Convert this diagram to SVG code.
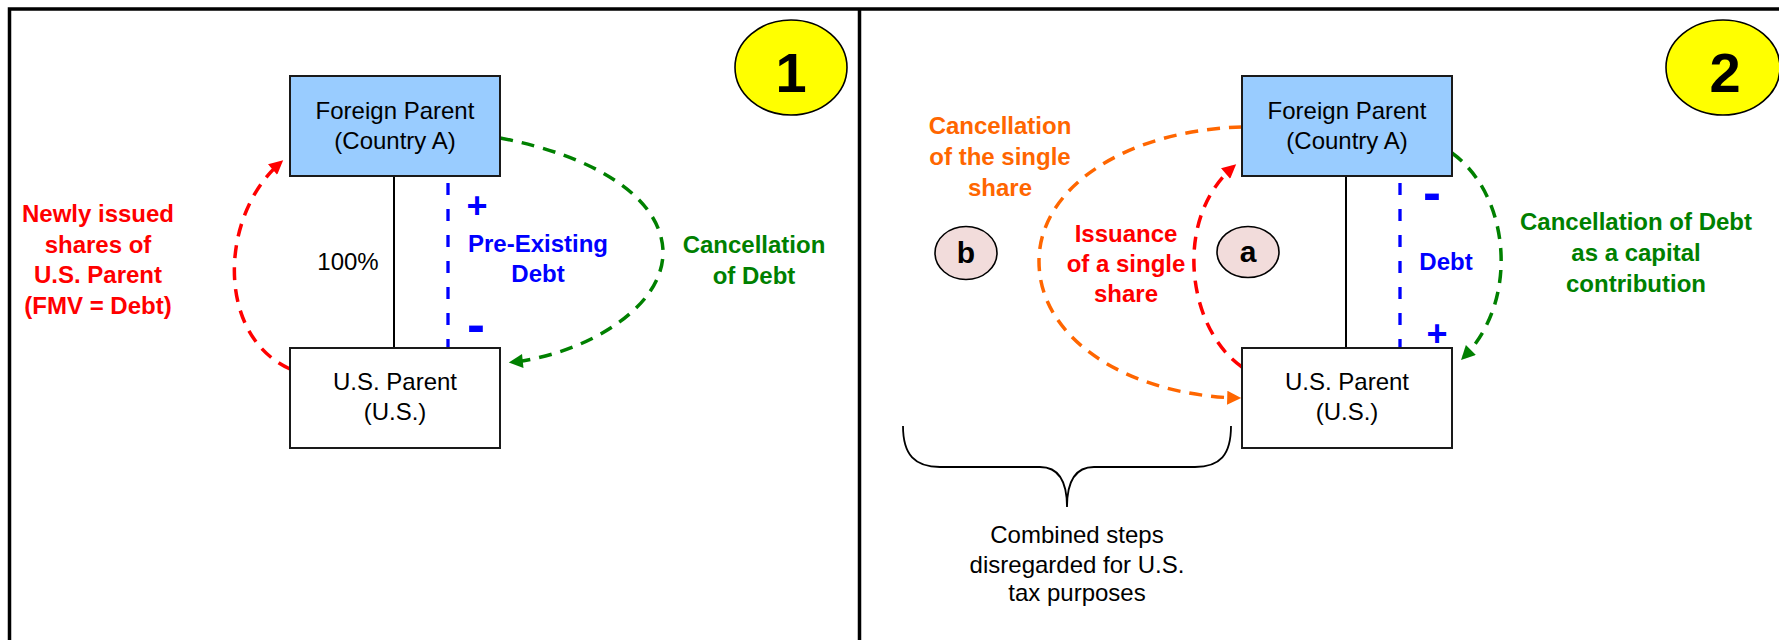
<svg xmlns="http://www.w3.org/2000/svg" width="1779" height="640" viewBox="0 0 1779 640">
<style>
text{font-family:"Liberation Sans",Arial,Helvetica,sans-serif;font-size:24px;text-anchor:middle;fill:#000}
.bd{font-weight:bold}
.red{fill:#FF0000}
.grn{fill:#008000}
.blu{fill:#0000FF}
.org{fill:#FF6600}
.big{font-size:56px;font-weight:bold}
.sign{font-size:36px;font-weight:bold;fill:#0000FF}
.minus{font-size:54px;font-weight:bold;fill:#0000FF}
.lett{font-size:30px;font-weight:bold}
.box{stroke:#1a1a1a;stroke-width:2}
.dash{fill:none;stroke-width:3.5;stroke-dasharray:13 9}
</style>
<defs>
<marker id="ar-red" viewBox="0 0 10 10" refX="7" refY="5" markerWidth="15" markerHeight="14" markerUnits="userSpaceOnUse" orient="auto"><path d="M0,0 L10,5 L0,10 z" fill="#FF0000"/></marker>
<marker id="ar-grn" viewBox="0 0 10 10" refX="7" refY="5" markerWidth="15" markerHeight="14" markerUnits="userSpaceOnUse" orient="auto"><path d="M0,0 L10,5 L0,10 z" fill="#008000"/></marker>
<marker id="ar-org" viewBox="0 0 10 10" refX="7" refY="5" markerWidth="15" markerHeight="14" markerUnits="userSpaceOnUse" orient="auto"><path d="M0,0 L10,5 L0,10 z" fill="#FF6600"/></marker>
</defs>
<rect width="1779" height="640" fill="#fff"/>
<g id="frame" fill="none" stroke="#000" stroke-width="3.5">
<path d="M9.5,640 L9.5,9 L1779,9"/>
<line x1="859.5" y1="9" x2="859.5" y2="640"/>
</g>

<g id="connectors">
<line x1="394" y1="177" x2="394" y2="348" stroke="#000" stroke-width="2"/>
<line x1="448" y1="183" x2="448" y2="348" stroke="#0000FF" stroke-width="3.3" stroke-dasharray="12 14"/>
<path class="dash" stroke="#FF0000" d="M290,369 C215,335 220,215 280,163" marker-end="url(#ar-red)"/>
<path class="dash" stroke="#008000" d="M500,138 C590,155 660,195 663,250 C665,310 580,355 513,362" marker-end="url(#ar-grn)"/>

<line x1="1346" y1="177" x2="1346" y2="348" stroke="#000" stroke-width="2"/>
<line x1="1400" y1="183" x2="1400" y2="348" stroke="#0000FF" stroke-width="3.3" stroke-dasharray="12 14"/>
<path class="dash" stroke="#FF6600" d="M1242,127 C1130,130 1040,185 1039,260 C1038,340 1130,395 1237,398" marker-end="url(#ar-org)"/>
<path class="dash" stroke="#FF0000" d="M1242,367 C1188,330 1172,220 1233,167" marker-end="url(#ar-red)"/>
<path class="dash" stroke="#008000" d="M1452,153 C1510,195 1520,300 1464,357" marker-end="url(#ar-grn)"/>
<path d="M903,426 C903,455 915,467 940,467 L1040,467 C1058,467 1067,480 1067,507 C1067,480 1076,467 1094,467 L1195,467 C1220,467 1231,455 1231,426" fill="none" stroke="#000" stroke-width="1.8"/>
</g>

<g id="p1-foreign-parent">
<rect class="box" x="290" y="76" width="210" height="100" fill="#99CCFF"/>
<text x="395" y="119">Foreign Parent</text>
<text x="395" y="149">(Country A)</text>
</g>
<g id="p1-us-parent">
<rect class="box" x="290" y="348" width="210" height="100" fill="#fff"/>
<text x="395" y="390">U.S. Parent</text>
<text x="395" y="420">(U.S.)</text>
</g>
<g id="badge-1">
<ellipse cx="791" cy="67.5" rx="56" ry="47.5" fill="#FFFF00" stroke="#000" stroke-width="1.6"/>
<text class="big" x="791" y="92">1</text>
</g>
<g id="p1-labels">
<text x="348" y="270">100%</text>
<text class="sign" x="477" y="218">+</text>
<text class="minus" x="476" y="343">-</text>
<text class="bd blu" x="538" y="252">Pre-Existing</text>
<text class="bd blu" x="538" y="282">Debt</text>
<text class="bd red" x="98" y="222">Newly issued</text>
<text class="bd red" x="98" y="252.5">shares of</text>
<text class="bd red" x="98" y="283">U.S. Parent</text>
<text class="bd red" x="98" y="313.5">(FMV = Debt)</text>
<text class="bd grn" x="754" y="253">Cancellation</text>
<text class="bd grn" x="754" y="284">of Debt</text>
</g>

<g id="p2-foreign-parent">
<rect class="box" x="1242" y="76" width="210" height="100" fill="#99CCFF"/>
<text x="1347" y="119">Foreign Parent</text>
<text x="1347" y="149">(Country A)</text>
</g>
<g id="p2-us-parent">
<rect class="box" x="1242" y="348" width="210" height="100" fill="#fff"/>
<text x="1347" y="390">U.S. Parent</text>
<text x="1347" y="420">(U.S.)</text>
</g>
<g id="badge-2">
<ellipse cx="1723" cy="67.5" rx="57" ry="47.5" fill="#FFFF00" stroke="#000" stroke-width="1.6"/>
<text class="big" x="1725" y="92">2</text>
</g>
<g id="step-a">
<ellipse cx="1248" cy="252" rx="31" ry="25.5" fill="#F2DCDB" stroke="#000" stroke-width="1.6"/>
<text class="lett" x="1248" y="262">a</text>
</g>
<g id="step-b">
<ellipse cx="966" cy="253" rx="31" ry="26.5" fill="#F2DCDB" stroke="#000" stroke-width="1.6"/>
<text class="lett" x="966" y="263">b</text>
</g>
<g id="p2-labels">
<text class="minus" x="1432" y="211">-</text>
<text class="sign" x="1437" y="346">+</text>
<text class="bd blu" x="1446" y="270">Debt</text>
<text class="bd org" x="1000" y="134">Cancellation</text>
<text class="bd org" x="1000" y="165">of the single</text>
<text class="bd org" x="1000" y="196">share</text>
<text class="bd red" x="1126" y="242">Issuance</text>
<text class="bd red" x="1126" y="272">of a single</text>
<text class="bd red" x="1126" y="302">share</text>
<text class="bd grn" x="1636" y="230">Cancellation of Debt</text>
<text class="bd grn" x="1636" y="261">as a capital</text>
<text class="bd grn" x="1636" y="291.5">contribution</text>
<text x="1077" y="543">Combined steps</text>
<text x="1077" y="573">disregarded for U.S.</text>
<text x="1077" y="601">tax purposes</text>
</g>
</svg>
